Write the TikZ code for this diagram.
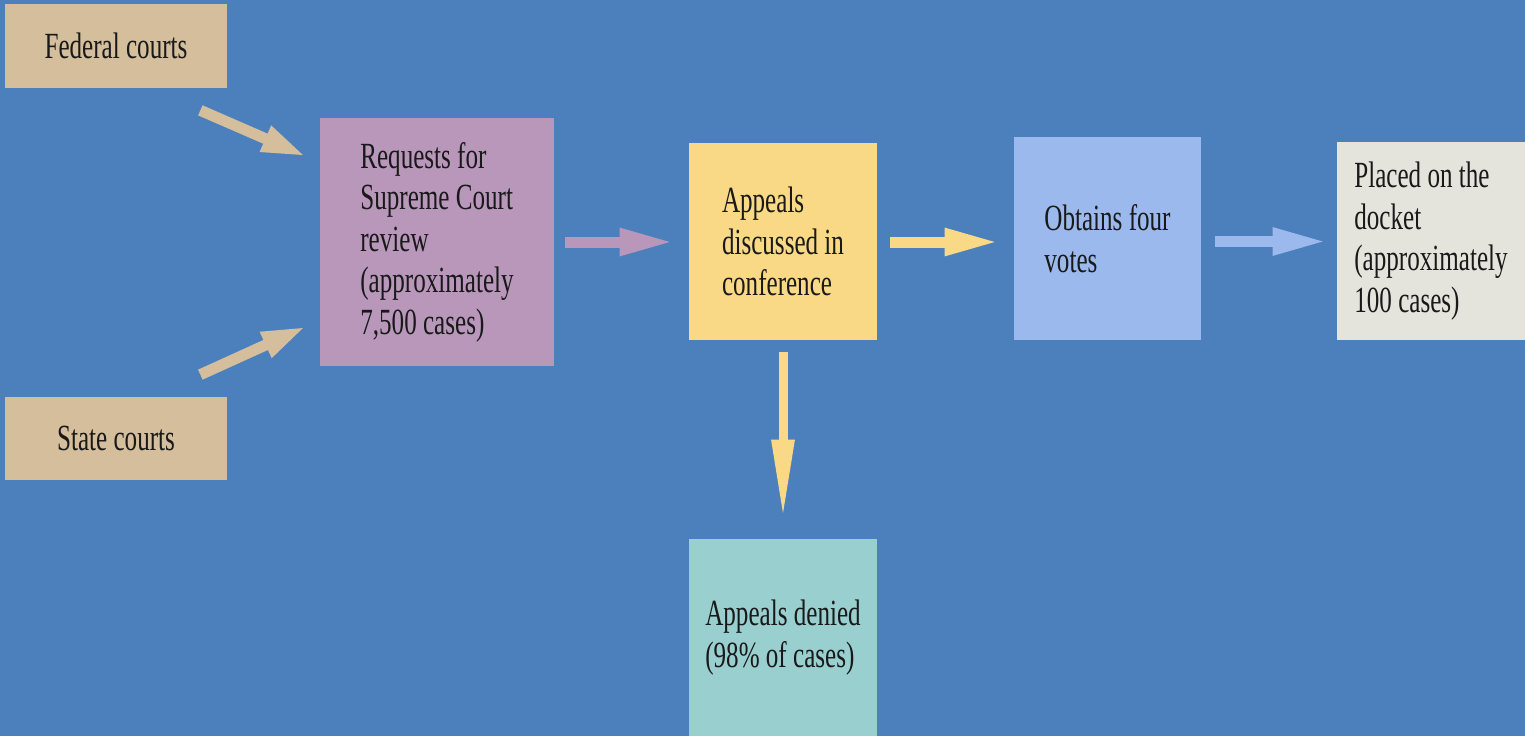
\documentclass[tikz,border=0pt]{standalone}
\usepackage{fontspec}
\setmainfont{Liberation Serif}[FakeStretch=0.68]
\usetikzlibrary{arrows.meta}

\definecolor{bgblue}{HTML}{4C80BD}
\definecolor{courttan}{HTML}{D4BE9C}
\definecolor{reqpurple}{HTML}{B897BB}
\definecolor{confyellow}{HTML}{F9D985}
\definecolor{voteblue}{HTML}{9CB9EE}
\definecolor{docketgrey}{HTML}{E5E4DC}
\definecolor{deniedteal}{HTML}{9ACFD0}

\tikzset{
  box/.style={rectangle, inner sep=0pt, align=left, text=black!90,
    font=\fontsize{21}{23.6}\selectfont},
  flow/.style={line width=0.22cm, -{Triangle[length=1.1cm,width=0.5cm]}}
}

\begin{document}
\begin{tikzpicture}
% background
  \fill[bgblue] (0,0) rectangle (30.5,-14.72);
  \useasboundingbox (0,0) rectangle (30.5,-14.72);

% define the boxes
  \node[box, fill=courttan, minimum width=4.44cm, minimum height=1.68cm]
        (fed)     at (2.32,-0.92)   {Federal courts};
  \node[box, fill=courttan, minimum width=4.44cm, minimum height=1.66cm]
        (state)   at (2.32,-8.77)   {State courts};
  \node[box, fill=reqpurple, minimum width=4.68cm, minimum height=4.96cm]
        (req)     at (8.74,-4.84)   {Requests for\\Supreme Court\\review\\(approximately\\7,500 cases)};
  \node[box, fill=confyellow, minimum width=3.76cm, minimum height=3.94cm]
        (conf)    at (15.66,-4.83)  {Appeals\\discussed in\\conference};
  \node[box, fill=voteblue, minimum width=3.74cm, minimum height=4.06cm]
        (votes)   at (22.15,-4.77)  {Obtains four\\votes};
  \node[box, fill=docketgrey, minimum width=3.76cm, minimum height=3.96cm]
        (docket)  at (28.62,-4.82)  {Placed on the\\docket\\(approximately\\100 cases)};
  \node[box, fill=deniedteal, minimum width=3.76cm, minimum height=3.94cm]
        (denied)  at (15.66,-12.75) {Appeals denied\\(98\% of cases)};

% define the arrows
  \draw[flow, courttan, -{Triangle[length=0.9cm,width=0.5cm]}]
        ([shift={(-0.54,-0.44)}]fed.south east) -- ([shift={(-0.26,-0.78)}]req.north west);
  \draw[flow, courttan, -{Triangle[length=0.9cm,width=0.5cm]}]
        ([shift={(-0.54,0.44)}]state.north east) -- ([shift={(-0.26,0.8)}]req.south west);
  \draw[flow, reqpurple, shorten <=0.22cm, shorten >=0.28cm]
        (req.east) -- (req.east -| conf.west);
  \draw[flow, confyellow, shorten <=0.26cm, shorten >=0.28cm]
        ([yshift=-0.01cm]conf.east) -- ([yshift=-0.01cm]conf.east -| votes.west);
  \draw[flow, voteblue, shorten <=0.28cm, shorten >=0.18cm]
        ([yshift=-0.06cm]votes.east) -- ([yshift=-0.06cm]votes.east -| docket.west);
  \draw[flow, confyellow, line width=0.18cm, -{Triangle[length=1.6cm,width=0.42cm]},
        shorten <=0.24cm, shorten >=0.38cm]
        (conf.south) -- (denied.north);

\end{tikzpicture}
\end{document}
